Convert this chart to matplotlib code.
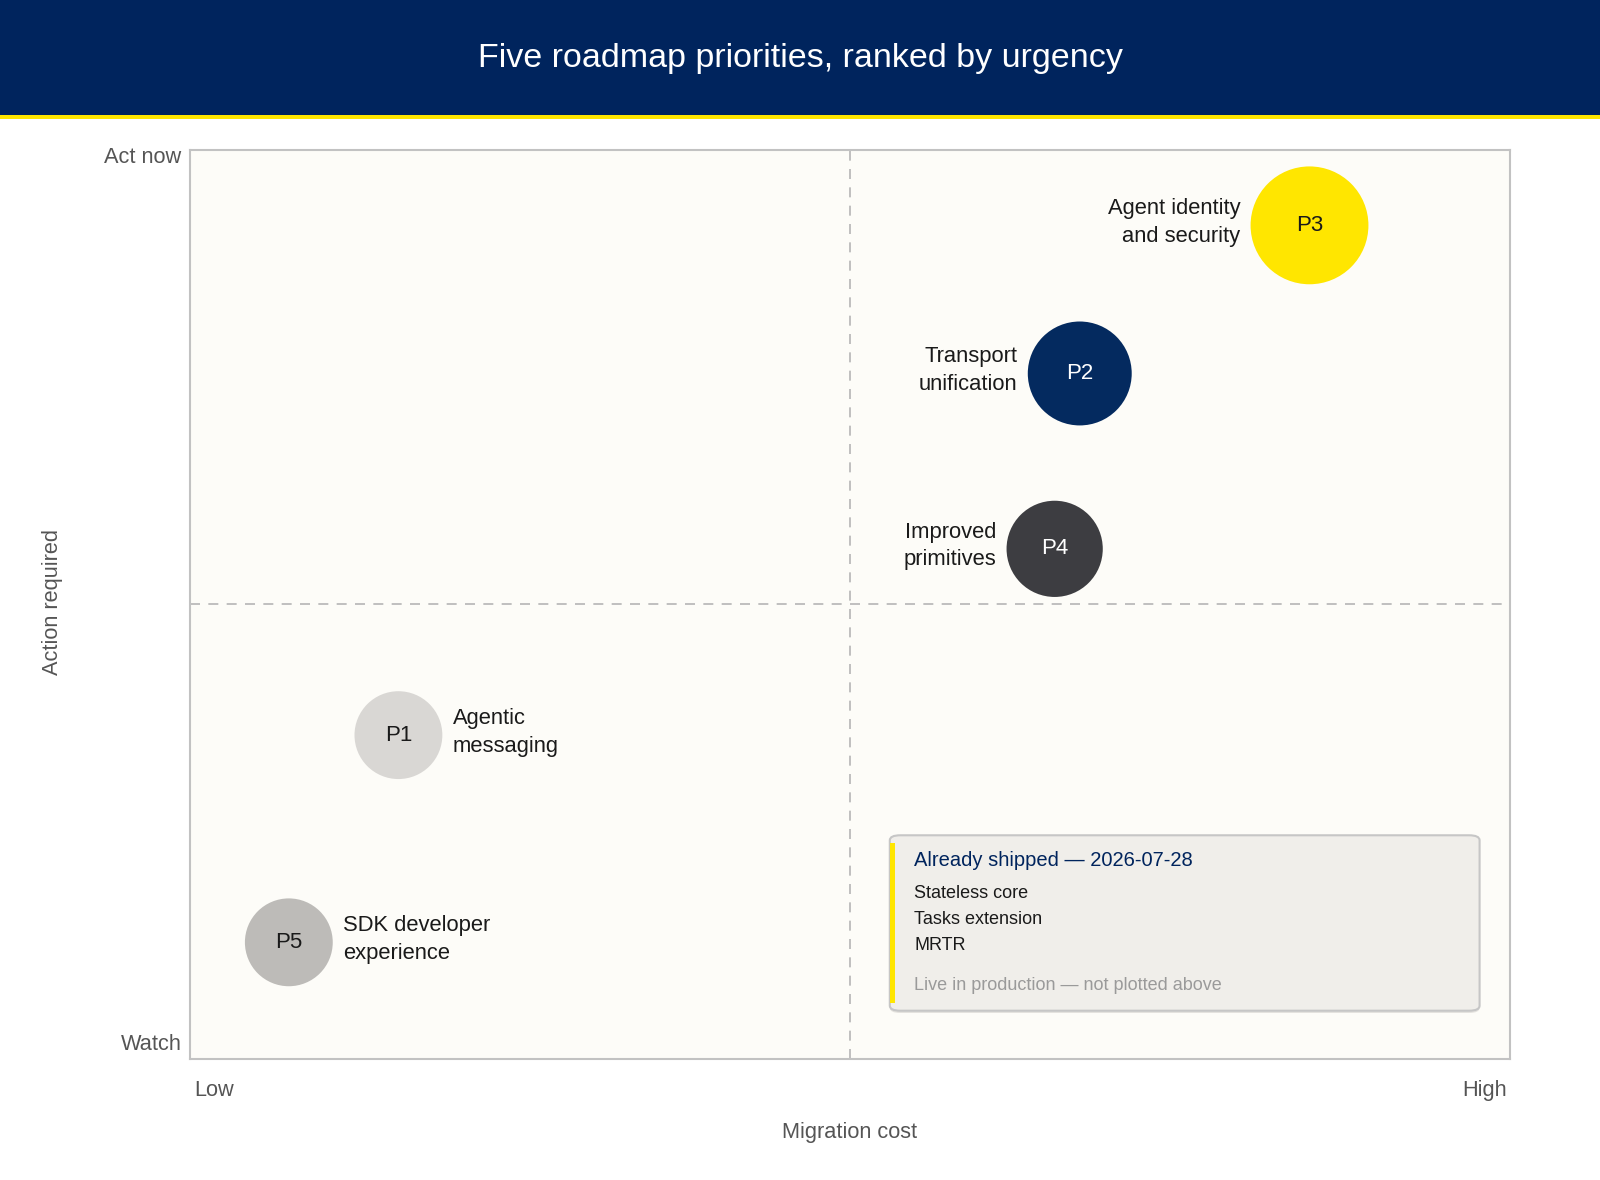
import matplotlib
matplotlib.use("Agg")
import matplotlib.pyplot as plt
from matplotlib.patches import FancyBboxPatch, Rectangle

plt.rcParams['font.family'] = ['Liberation Sans', 'DejaVu Sans']

# ---- data ----
title = "Five roadmap priorities, ranked by urgency"
codes = ["P1", "P2", "P3", "P4", "P5"]
names = ["Agentic\nmessaging", "Transport\nunification", "Agent identity\nand security",
         "Improved\nprimitives", "SDK developer\nexperience"]
migration_cost = [15.8, 67.4, 84.8, 65.5, 7.5]
action_required = [35.6, 75.4, 91.7, 56.1, 12.8]
weight = [4.0, 5.6, 7.2, 4.8, 4.0]
label_side = ["right", "left", "left", "left", "right"]
shipped_date = "2026-07-28"
shipped_items = ["Stateless core", "Tasks extension", "MRTR"]
shipped_note = "Live in production — not plotted above"
x_ticks = ["Low", "High"]
y_ticks = ["Watch", "Act now"]

# ---- styles ----
NAVY = "#00245d"
YELLOW = "#ffe600"
fills = {"P1": "#d9d7d4", "P2": "#042a5f", "P3": "#ffe600", "P4": "#3d3d41", "P5": "#bdbbb8"}
txtcol = {"P1": "#1a1a1a", "P2": "white", "P3": "#1a1a1a", "P4": "white", "P5": "#1a1a1a"}

W, H = 1568.0, 1157.0
fig = plt.figure(figsize=(16, 11.8), dpi=100)
fig.patch.set_facecolor("white")

# header band
fig.patches.append(Rectangle((0, 1 - 113 / H), 1, 113 / H, transform=fig.transFigure,
                             facecolor=NAVY, edgecolor="none", zorder=0))
fig.patches.append(Rectangle((0, 1 - 117 / H), 1, 4 / H, transform=fig.transFigure,
                             facecolor=YELLOW, edgecolor="none", zorder=0))
fig.text(0.5, 1 - 57 / H, title, color="white", fontsize=24.5, ha="center", va="center")

left, right, top, bottom = 186 / W, 1480 / W, 1 - 147 / H, 1 - 1038 / H
ax = fig.add_axes([left, bottom, right - left, top - bottom])
ax.set_facecolor("#fdfcf8")
ax.set_xlim(0, 100)
ax.set_ylim(0, 100)
ax.set_xticks([])
ax.set_yticks([])
for sp in ax.spines.values():
    sp.set_color("#c2c2c2")
    sp.set_linewidth(1.5)

ax.axvline(50, color="#b5b5b5", lw=1.2, ls=(0, (6, 5)), zorder=1)
ax.axhline(50, color="#b5b5b5", lw=1.2, ls=(0, (6, 5)), zorder=1)

# bubbles
sizes = [w * 1000 for w in weight]
ax.scatter(migration_cost, action_required, s=sizes,
           c=[fills[c] for c in codes], edgecolors="none", zorder=3)
for code, name, xv, yv, s, side in zip(codes, names, migration_cost, action_required, sizes, label_side):
    ax.text(xv, yv, code, ha="center", va="center", fontsize=16, color=txtcol[code], zorder=4)
    r_pt = (s ** 0.5) / 2
    dx = r_pt + 7.5
    ax.annotate(name, (xv, yv), xytext=(dx if side == "right" else -dx, 2),
                textcoords="offset points", ha="left" if side == "right" else "right",
                va="center", fontsize=15.8, color="#1a1a1a", linespacing=1.42, zorder=4)

# shipped box
bx0, bx1 = (872 - 186) / 1294 * 100, (1450 - 186) / 1294 * 100
by0, by1 = (1038 - 991) / 891 * 100, (1038 - 819) / 891 * 100
shadow = FancyBboxPatch((bx0, by0 - 0.25), bx1 - bx0, by1 - by0,
                        boxstyle="round,pad=0,rounding_size=0.8",
                        facecolor="#e4e2de", edgecolor="none", zorder=4.9,
                        mutation_aspect=891 / 1294)
ax.add_patch(shadow)
box = FancyBboxPatch((bx0, by0), bx1 - bx0, by1 - by0,
                     boxstyle="round,pad=0,rounding_size=0.8",
                     facecolor="#f0eeea", edgecolor="#c6c6c6", lw=1.5, zorder=5,
                     mutation_aspect=891 / 1294)
ax.add_patch(box)
yb0, yb1 = (1038 - 983) / 891 * 100, (1038 - 827) / 891 * 100
ax.add_patch(Rectangle((bx0, yb0), 0.38, yb1 - yb0, facecolor=YELLOW, edgecolor="none", zorder=6))

tx = (896 - 186) / 1294 * 100
def yd(py):
    return (1038 - py) / 891 * 100
ax.text(tx, yd(844), f"Already shipped — {shipped_date}", color=NAVY, fontsize=14.5,
        ha="left", va="center", zorder=7)
for i, item in enumerate(shipped_items):
    ax.text(tx, yd(876 + i * 25.5), item, color="#1a1a1a", fontsize=13,
            ha="left", va="center", zorder=7)
ax.text(tx, yd(966.5), shipped_note, color="#9a9a9a", fontsize=13,
        ha="left", va="center", zorder=7)

# axis text
gray = "#555555"
fs = 15.7
fig.text(178 / W, 1 - 154 / H, y_ticks[1], ha="right", va="center", fontsize=fs, color=gray)
fig.text(178 / W, 1 - 1024 / H, y_ticks[0], ha="right", va="center", fontsize=fs, color=gray)
fig.text(190 / W, 1 - 1069 / H, x_ticks[0], ha="left", va="center", fontsize=fs, color=gray)
fig.text(1477 / W, 1 - 1069 / H, x_ticks[1], ha="right", va="center", fontsize=fs, color=gray)
fig.text(833 / W, 1 - 1110 / H, "Migration cost", ha="center", va="center", fontsize=fs, color=gray)
fig.text(51 / W, 1 - 590 / H, "Action required", ha="center", va="center", fontsize=fs,
         color=gray, rotation=90)

fig.savefig("out.png", dpi=100, facecolor="white")
